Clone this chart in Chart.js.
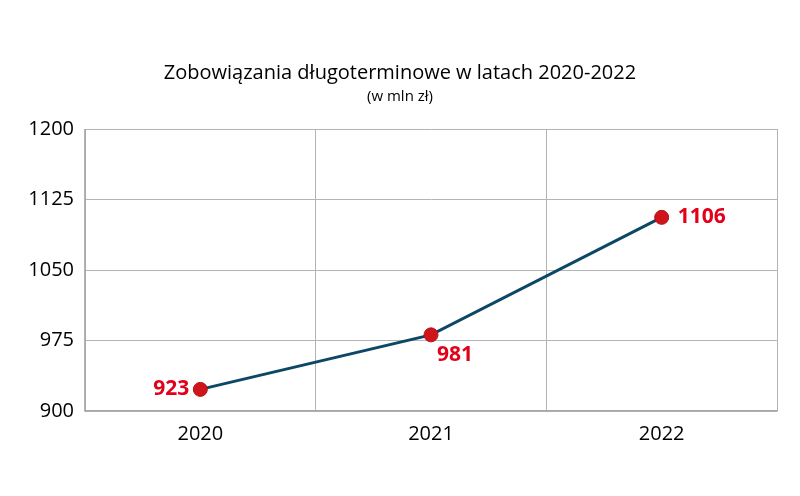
<!DOCTYPE html>
<html>
<head>
<meta charset="utf-8">
<script src="https://cdn.jsdelivr.net/npm/chart.js@4"></script>
<style>
  html, body { margin: 0; padding: 0; background: #fff; }
  #wrap { width: 800px; height: 496px; }
</style>
</head>
<body>
<div id="wrap"><canvas id="chart" width="800" height="496"></canvas></div>
<script>
const years = ["2020", "2021", "2022"];
const liabilities = [923, 981, 1106];
const yTicks = [900, 975, 1050, 1125, 1200];
// where each value label sits relative to its point
const labelSide = ["left", "below", "right"];

const FONT = "'Open Sans', 'Noto Sans', sans-serif";

const valueLabels = {
  id: "valueLabels",
  afterDatasetsDraw(chart) {
    const ctx = chart.ctx;
    const meta = chart.getDatasetMeta(0);
    ctx.save();
    ctx.font = "bold 21px " + FONT;
    ctx.fillStyle = "#e2001a";
    meta.data.forEach((pt, i) => {
      const txt = String(liabilities[i]);
      const side = labelSide[i];
      if (side === "left") {
        ctx.textAlign = "right"; ctx.textBaseline = "middle";
        ctx.fillText(txt, pt.x - 11, pt.y);
      } else if (side === "right") {
        ctx.textAlign = "left"; ctx.textBaseline = "middle";
        ctx.fillText(txt, pt.x + 16, pt.y);
      } else {
        ctx.textAlign = "left"; ctx.textBaseline = "middle";
        ctx.fillText(txt, pt.x + 6, pt.y + 20);
      }
    });
    ctx.restore();
  }
};

new Chart(document.getElementById("chart"), {
  type: "line",
  data: {
    labels: years,
    datasets: [{
      data: liabilities,
      borderColor: "#0d4766",
      borderWidth: 3,
      pointRadius: 7,
      pointBackgroundColor: "#d0141c",
      pointBorderColor: "#b3121a",
      pointBorderWidth: 1,
      tension: 0,
      fill: false
    }]
  },
  options: {
    responsive: false,
    animation: false,
    layout: { padding: { top: 0, right: 23, bottom: 0, left: 23 } },
    plugins: {
      legend: { display: false },
      tooltip: { enabled: false },
      title: {
        display: true,
        text: "Zobowiązania długoterminowe w latach 2020-2022",
        color: "#000",
        font: { family: FONT, size: 20, weight: "normal" },
        padding: { top: 61, bottom: 0 }
      },
      subtitle: {
        display: true,
        text: "(w mln zł)",
        color: "#000",
        font: { family: FONT, size: 15, weight: "normal" },
        padding: { top: 3, bottom: 23 }
      }
    },
    scales: {
      x: {
        offset: true,
        grid: { offset: true, color: "#b4b4b4", lineWidth: 1, drawTicks: false, tickLength: 0 },
        border: { color: "#a8a8a8", width: 1.5 },
        ticks: { color: "#000", padding: 11, font: { family: FONT, size: 20 } },
        afterFit(scale) { scale.height = 85; }
      },
      y: {
        min: 900,
        max: 1200,
        afterBuildTicks(scale) { scale.ticks = yTicks.map(v => ({ value: v })); },
        grid: { color: "#b4b4b4", lineWidth: 1, drawTicks: false, tickLength: 0 },
        border: { color: "#a8a8a8", width: 1 },
        ticks: {
          color: "#000", padding: 11, font: { family: FONT, size: 20 },
          callback: v => String(v)
        },
        afterFit(scale) { scale.width = 62; }
      }
    }
  },
  plugins: [valueLabels]
});
</script>
</body>
</html>
